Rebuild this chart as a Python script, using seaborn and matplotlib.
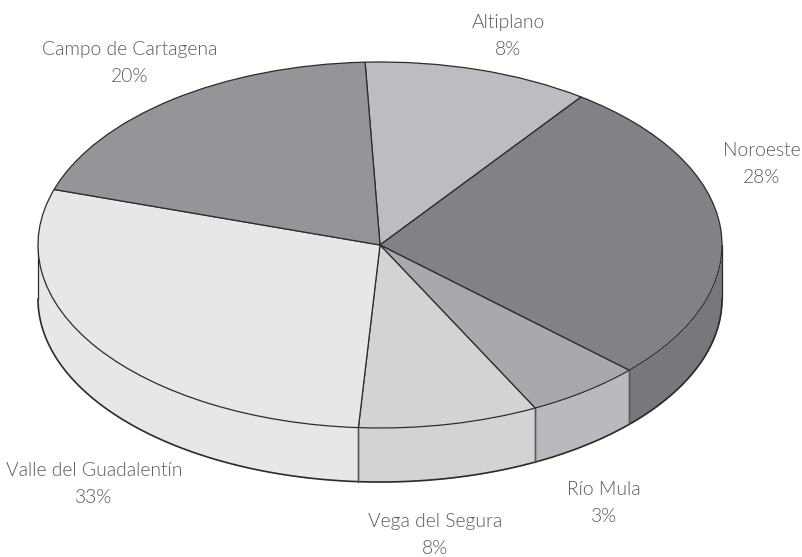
import matplotlib
import matplotlib.pyplot as plt
import numpy as np
import seaborn as sns

matplotlib.use("Agg")

REGIONS = ["Altiplano", "Noroeste", "Río Mula", "Vega del Segura", "Valle del Guadalentín", "Campo de Cartagena"]
# printed percentages
LABEL_PCT = ["8%", "28%", "3%", "8%", "33%", "20%"]
# the drawn slices do not follow the printed numbers, these are read off the picture
SLICE_SHARE = [10.7, 27.0, 5.5, 8.5, 28.9, 19.4]
TOP_COLORS = ["#bcbdc0", "#808285", "#a7a9ac", "#d1d3d4", "#e6e7e8", "#939598"]
SIDE_COLORS = ["#bcbdc0", "#77787b", "#b9babd", "#d1d3d4", "#e6e7e8", "#939598"]

WIDTH, HEIGHT = 802, 557
CENTER_X, CENTER_Y = 380, 245
RADIUS_X, RADIUS_Y = 342, 183
DEPTH = 54 / RADIUS_Y
START_ANGLE = 92.5
LINE = "#2b2b2d"
TEXT = "#58595b"

LABEL_POS = [(508, 36), (762, 164), (604, 503), (435, 535), (94, 484), (130, 63)]


def draw_side(ax, shares):
    edges = START_ANGLE - np.cumsum([0] + shares) * 3.6
    for i in range(len(shares)):
        # only the part of the rim on the front half of the ellipse is visible
        hi = min(edges[i], 0)
        lo = max(edges[i + 1], -180)
        if hi <= lo:
            continue
        theta = np.radians(np.linspace(lo, hi, 80))
        x = np.cos(theta)
        y = np.sin(theta)
        ax.fill_between(x, y, y - DEPTH, color=SIDE_COLORS[i], lw=0, zorder=1)
        ax.plot(x, y - DEPTH, color=LINE, lw=1.2, zorder=2)
        for t in (lo, hi):
            if -180 < t < 0:
                px = np.cos(np.radians(t))
                py = np.sin(np.radians(t))
                ax.plot([px, px], [py, py - DEPTH], color="#58595b", lw=1.0, zorder=2)
    for px in (-1, 1):
        ax.plot([px, px], [0, -DEPTH], color=LINE, lw=0.9, zorder=2)


def plot_pie():
    sns.set_theme(style="white")
    plt.rcParams["font.family"] = ["Lato", "DejaVu Sans"]

    fig = plt.figure(figsize=(WIDTH / 100, HEIGHT / 100), dpi=100)
    ax = fig.add_axes([0, 0, 1, 1])

    draw_side(ax, SLICE_SHARE)
    ax.pie(
        SLICE_SHARE,
        colors=sns.color_palette(TOP_COLORS),
        startangle=START_ANGLE,
        counterclock=False,
        radius=1,
        wedgeprops={"edgecolor": LINE, "linewidth": 0.9, "zorder": 3},
    )
    ax.set_aspect("auto")
    ax.set_xlim(-CENTER_X / RADIUS_X, (WIDTH - CENTER_X) / RADIUS_X)
    ax.set_ylim(-(HEIGHT - CENTER_Y) / RADIUS_Y, CENTER_Y / RADIUS_Y)
    ax.axis("off")

    for name, pct, (x, y) in zip(REGIONS, LABEL_PCT, LABEL_POS):
        fig.text(
            x / WIDTH, 1 - y / HEIGHT, f"{name}\n{pct}",
            ha="center", va="center", ma="center", fontsize=13.9,
            fontweight=300, color=TEXT, linespacing=1.7,
        )

    fig.savefig("out.png", dpi=100, facecolor="white")


if __name__ == "__main__":
    plot_pie()
